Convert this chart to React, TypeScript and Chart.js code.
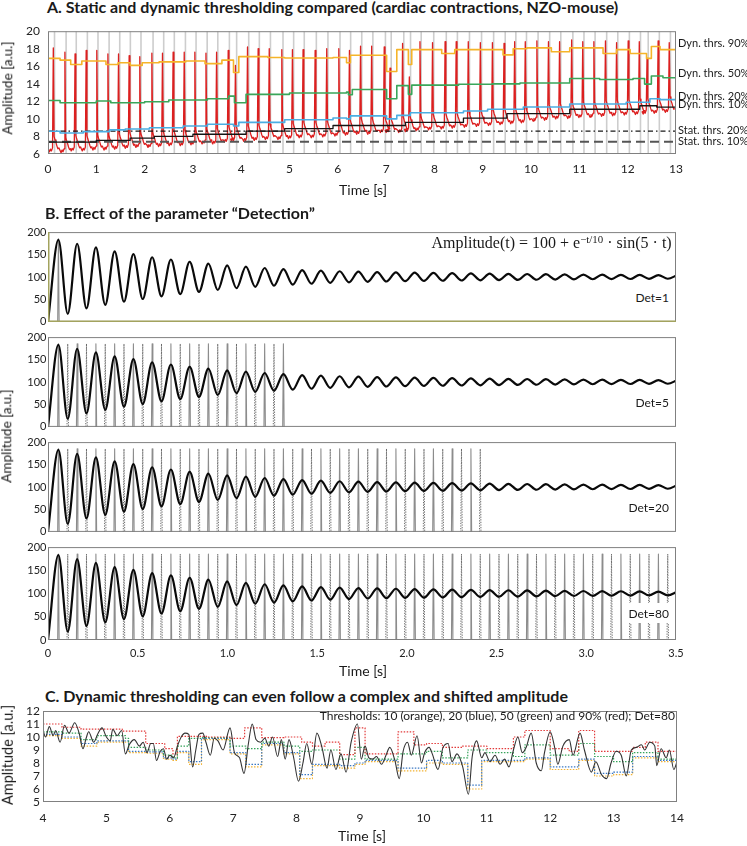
import React, { useEffect, useRef } from "react";
import { Chart, registerables } from "chart.js";

Chart.register(...registerables);
Chart.defaults.font.family = "Lato, 'Open Sans', sans-serif";
Chart.defaults.color = "#222";

// ================= Panel A data =================
const aBeatTimes = [0.11, 0.35, 0.56, 0.79, 1.01, 1.24, 1.46, 1.68, 1.9, 2.15, 2.37, 2.59, 2.82, 3.04, 3.27, 3.49, 3.73, 3.88, 4.13, 4.35, 4.58, 4.84, 5.06, 5.28, 5.53, 5.77, 6.02, 6.24, 6.47, 6.7, 6.96, 7.08, 7.34, 7.48, 7.7, 7.96, 8.22, 8.45, 8.7, 8.95, 9.2, 9.44, 9.66, 9.88, 10.12, 10.36, 10.59, 10.84, 11.07, 11.3, 11.54, 11.77, 12.01, 12.24, 12.4, 12.63, 12.86];
const aPeakValues = [18.1, 17.6, 17.4, 17.8, 17.8, 17.4, 17.4, 17.2, 17.1, 17.5, 17.5, 17.6, 17.6, 17.6, 17.5, 17.6, 17.8, 16.1, 18.2, 18.0, 18.0, 17.9, 17.9, 17.9, 17.8, 18.0, 18.0, 17.8, 18.3, 18.3, 18.2, 15.8, 18.6, 14.8, 18.8, 18.7, 18.8, 18.8, 18.8, 18.7, 18.7, 18.6, 18.8, 18.8, 18.9, 18.8, 18.8, 19.0, 18.8, 18.8, 18.9, 18.7, 18.9, 18.8, 16.9, 18.9, 18.7];
const aBaseValues = [6.4, 6.3, 6.5, 6.5, 6.6, 6.6, 6.7, 6.8, 6.9, 6.9, 7.0, 7.1, 7.1, 7.2, 7.3, 7.3, 7.5, 7.6, 7.6, 7.7, 7.8, 7.8, 7.9, 8.0, 8.0, 8.1, 8.2, 8.3, 8.4, 8.4, 8.6, 8.6, 8.6, 8.7, 8.8, 8.9, 9.0, 9.1, 9.2, 9.3, 9.4, 9.5, 9.6, 9.7, 9.9, 10.0, 10.15, 10.2, 10.3, 10.35, 10.45, 10.5, 10.6, 10.65, 10.7, 10.8, 10.9];
// waveform of one contraction, relative to the beat (time offsets [s], amplitude above baseline)
const aBeatShapeDt = [-0.1, -0.08, -0.06, -0.04, -0.016, 0, 0.016, 0.035, 0.055, 0.075, 0.095, 0.115];
const aBeatShapeRel = [0.1, -0.15, 0.15, -0.05, 0.3, NaN, 1.6, 1.2, 0.9, 0.5, 0.2, 0.3];
const aThr90 = [[0, 16.9], [0.25, 16.7], [0.47, 16.2], [0.7, 16.6], [1.0, 16.6], [1.2, 16.2], [1.45, 16.4], [1.7, 16.1], [1.95, 16.4], [2.3, 16.5], [2.85, 16.6], [3.25, 16.3], [3.6, 16.7], [3.84, 15.3], [3.95, 17.1], [4.55, 17.0], [4.9, 16.95], [5.9, 17.0], [6.18, 16.4], [6.26, 17.25], [7.01, 15.4], [7.22, 17.9], [7.46, 16.2], [7.53, 17.9], [8.15, 17.45], [8.42, 17.9], [9.42, 17.3], [9.63, 18.0], [9.91, 18.1], [10.42, 17.65], [10.8, 18.1], [11.49, 17.45], [11.77, 17.9], [12.05, 17.45], [12.39, 16.9], [12.49, 18.25], [12.67, 17.9], [13, 17.9]];
const aThr50 = [[0, 12.1], [0.25, 11.85], [1.0, 12.05], [1.3, 11.85], [2.0, 11.95], [2.5, 12.15], [3.3, 12.3], [3.74, 12.6], [3.86, 11.85], [4.1, 12.8], [5.0, 12.95], [6.18, 13.05], [6.22, 12.75], [6.3, 13.35], [7.01, 12.3], [7.22, 13.8], [7.46, 12.8], [7.53, 13.85], [8.5, 13.95], [9.2, 14.0], [9.77, 14.1], [10.8, 14.6], [11.42, 14.5], [12.11, 14.6], [12.35, 13.97], [12.49, 14.9], [12.73, 14.7], [13, 14.7]];
const aThr20 = [[0, 8.6], [0.25, 8.4], [0.73, 8.55], [1.27, 8.75], [1.6, 8.85], [2.1, 9.0], [2.8, 9.2], [3.3, 9.4], [3.84, 9.2], [3.95, 9.6], [4.9, 9.9], [5.9, 10.1], [6.18, 10.0], [6.26, 10.35], [7.01, 10.0], [7.22, 10.4], [7.5, 10.7], [8.6, 10.9], [9.1, 11.1], [9.84, 11.35], [10.8, 11.7], [11.97, 11.9], [12.46, 12.3], [12.67, 12.2], [13, 12.2]];
const aThr10 = [[0, 7.35], [1.0, 7.55], [1.7, 7.8], [2.2, 8.0], [3.0, 8.25], [4.1, 8.6], [4.9, 8.9], [5.9, 9.25], [7.4, 9.6], [8.6, 10.1], [9.5, 10.6], [10.8, 11.1], [12.25, 11.5], [12.6, 11.35], [13, 11.35]];
const aStat20 = 8.6;
const aStat10 = 7.4;
const aRightLabels = ["Dyn. thrs. 90%", "Dyn. thrs. 50%", "Dyn. thrs. 20%", "Dyn. thrs. 10%", "Stat. thrs. 20%", "Stat. thrs. 10%"];

// ================= Panel B data =================
const bPeakTimes = [0.058, 0.1625, 0.267, 0.3715, 0.476, 0.5805, 0.685, 0.7895, 0.894, 0.9985, 1.103, 1.2075, 1.312, 1.4165, 1.521, 1.6255, 1.73, 1.8345, 1.939, 2.0435, 2.148, 2.2525, 2.357, 2.4615, 2.566, 2.6705, 2.775, 2.8795, 2.984, 3.0885, 3.193, 3.2975, 3.402, 3.5065];
const bPeakValues = [183, 174, 166, 157, 151, 144, 139, 134, 130, 126, 123, 120, 117.5, 115.5, 114, 112.8, 111.8, 111, 110.3, 109.7, 109.1, 108.6, 108.0, 107.5, 107.1, 106.7, 106.3, 105.9, 105.5, 105.2, 104.9, 104.6, 104.3, 104.1];
const bTroughTimes = [0, 0.11, 0.2145, 0.319, 0.4235, 0.528, 0.6325, 0.737, 0.8415, 0.946, 1.0505, 1.155, 1.2595, 1.364, 1.4685, 1.573, 1.6775, 1.782, 1.8865, 1.991, 2.0955, 2.2, 2.3045, 2.409, 2.5135, 2.618, 2.7225, 2.827, 2.9315, 3.036, 3.1405, 3.245, 3.3495, 3.454];
const bTroughValues = [0, 18, 30, 38, 45, 51, 57, 62, 67, 71, 75, 78, 80.5, 83, 85, 86.8, 88.2, 89.3, 90, 90.6, 91.2, 91.7, 92.2, 92.7, 93.1, 93.5, 93.9, 94.3, 94.7, 95.0, 95.3, 95.6, 95.9, 96.1];
const bDetLabels = ["Det=1", "Det=5", "Det=20", "Det=80"];
const bMaxMarks = [1, 13, 23, 33]; // detected maxima shown (solid)
const bMinMarks = [0, 12, 23, 33]; // detected minima shown (dotted), counted from the 2nd trough
const bMarkTop = 185;

// ================= Panel C data =================
const cTimes = [4.0, 4.04, 4.1, 4.16, 4.2, 4.27, 4.34, 4.41, 4.5, 4.57, 4.63, 4.68, 4.72, 4.8, 4.86, 4.93, 5.0, 5.06, 5.1, 5.17, 5.24, 5.3, 5.36, 5.44, 5.52, 5.58, 5.64, 5.7, 5.74, 5.79, 5.85, 5.9, 5.95, 6.0, 6.06, 6.12, 6.18, 6.24, 6.3, 6.36, 6.41, 6.46, 6.52, 6.57, 6.64, 6.7, 6.76, 6.84, 6.95, 7.02, 7.1, 7.17, 7.24, 7.3, 7.36, 7.43, 7.5, 7.56, 7.62, 7.7, 7.76, 7.82, 7.88, 7.95, 8.03, 8.1, 8.16, 8.24, 8.32, 8.4, 8.48, 8.54, 8.62, 8.7, 8.78, 8.86, 8.96, 9.02, 9.08, 9.14, 9.2, 9.26, 9.34, 9.41, 9.47, 9.55, 9.62, 9.68, 9.75, 9.81, 9.9, 9.97, 10.02, 10.09, 10.14, 10.23, 10.31, 10.39, 10.45, 10.53, 10.62, 10.71, 10.77, 10.84, 10.92, 10.97, 11.05, 11.13, 11.21, 11.28, 11.35, 11.42, 11.49, 11.56, 11.62, 11.7, 11.78, 11.86, 11.91, 12.0, 12.07, 12.12, 12.2, 12.3, 12.36, 12.47, 12.54, 12.65, 12.72, 12.81, 12.89, 12.96, 13.04, 13.12, 13.2, 13.28, 13.36, 13.44, 13.49, 13.57, 13.65, 13.68, 13.75, 13.83, 13.88, 13.95, 14.0];
const cValues = [10.5, 10.0, 10.8, 10.1, 10.5, 9.6, 10.9, 10.3, 11.1, 10.3, 9.1, 9.9, 10.4, 9.6, 10.2, 10.7, 10.0, 9.7, 10.6, 10.1, 10.5, 8.7, 9.4, 9.8, 9.3, 9.6, 8.8, 9.5, 9.5, 8.2, 8.9, 9.1, 8.3, 8.6, 8.4, 9.3, 10.0, 10.3, 10.2, 7.7, 9.0, 10.2, 10.3, 9.6, 8.6, 9.9, 9.7, 9.0, 10.7, 8.8, 8.4, 7.2, 9.5, 11.0, 9.8, 9.6, 9.9, 9.3, 10.0, 8.5, 9.8, 8.3, 9.8, 8.5, 6.6, 8.0, 9.5, 7.9, 10.3, 9.2, 7.6, 9.0, 7.5, 8.7, 7.3, 9.6, 11.0, 8.3, 9.3, 8.4, 8.3, 8.5, 7.9, 8.6, 9.2, 8.2, 6.8, 8.9, 9.6, 8.6, 10.1, 8.0, 8.8, 9.2, 8.7, 7.5, 9.2, 9.5, 8.1, 8.7, 7.7, 5.6, 8.5, 9.7, 8.4, 8.8, 8.1, 8.6, 7.9, 8.3, 7.7, 9.0, 10.0, 8.8, 9.2, 10.3, 8.0, 7.4, 8.8, 10.4, 9.2, 7.9, 9.3, 9.8, 8.6, 10.3, 9.0, 7.3, 8.1, 7.1, 6.8, 8.0, 8.9, 8.6, 7.0, 9.0, 9.2, 9.4, 9.0, 9.6, 9.3, 7.8, 9.1, 8.4, 9.0, 7.5, 8.1];
const cRed = [[4, 11.0], [4.3, 10.75], [4.6, 10.6], [5.25, 10.45], [5.62, 9.5], [5.92, 9.1], [6.05, 8.7], [6.12, 10.05], [6.6, 10.0], [6.95, 9.9], [7.18, 10.7], [7.45, 9.95], [7.8, 10.0], [8.08, 9.6], [8.25, 9.3], [8.45, 9.6], [8.68, 8.65], [8.92, 10.7], [9.08, 8.7], [9.6, 10.4], [9.85, 9.4], [10.05, 9.5], [10.3, 9.2], [10.6, 9.3], [11.0, 9.1], [11.42, 10.0], [11.6, 10.5], [12.0, 9.1], [12.3, 8.9], [12.45, 10.5], [12.7, 8.9], [13.3, 9.2], [13.5, 9.6], [13.7, 8.9], [14, 8.7]];
const cGreen = [[4, 10.4], [4.3, 10.3], [4.6, 9.8], [4.85, 10.1], [5.3, 9.9], [5.35, 9.2], [5.62, 9.0], [5.9, 8.6], [6.05, 8.4], [6.12, 9.3], [6.3, 9.9], [6.5, 9.95], [6.95, 9.3], [7.2, 9.1], [7.45, 9.6], [7.8, 9.3], [8.05, 8.9], [8.25, 9.0], [8.68, 8.3], [8.92, 9.2], [9.08, 8.3], [9.6, 8.7], [10.05, 8.9], [10.3, 8.4], [10.7, 9.0], [11.0, 8.8], [11.42, 8.5], [11.6, 9.4], [12.0, 8.6], [12.45, 9.5], [12.7, 8.5], [13.0, 8.1], [13.3, 8.8], [13.7, 8.3], [14, 8.0]];
const cBlue = [[4, 10.2], [4.3, 10.0], [4.6, 9.5], [4.85, 9.7], [5.3, 9.7], [5.35, 8.9], [5.62, 8.85], [5.9, 8.4], [6.05, 8.3], [6.12, 8.9], [6.3, 8.1], [6.5, 9.9], [6.95, 8.8], [7.2, 7.9], [7.45, 9.5], [7.8, 8.8], [8.05, 7.1], [8.25, 7.9], [8.68, 7.8], [8.92, 8.0], [9.08, 8.2], [9.6, 7.6], [10.05, 8.2], [10.3, 8.0], [10.7, 6.3], [10.92, 8.2], [11.42, 8.2], [11.6, 8.4], [12.0, 7.7], [12.45, 8.3], [12.7, 7.2], [13.0, 7.3], [13.3, 8.5], [13.7, 8.2], [14, 8.0]];
const cOrange = [[4, 10.1], [4.3, 9.9], [4.6, 9.3], [4.85, 9.6], [5.3, 9.6], [5.35, 8.8], [5.62, 8.75], [5.9, 8.3], [6.05, 8.2], [6.12, 8.8], [6.3, 7.9], [6.5, 9.8], [6.95, 8.7], [7.2, 7.7], [7.45, 9.4], [7.8, 8.7], [8.05, 6.8], [8.25, 7.8], [8.68, 7.6], [8.92, 7.9], [9.08, 8.1], [9.6, 7.4], [10.05, 8.0], [10.3, 7.9], [10.7, 6.0], [10.92, 8.1], [11.42, 8.1], [11.6, 8.3], [12.0, 7.5], [12.45, 8.2], [12.7, 7.0], [13.0, 7.1], [13.3, 8.4], [13.7, 8.1], [14, 7.9]];

// ================= helpers =================
const FONT = "Lato, 'Open Sans', sans-serif";
type Rect = { l: number; t: number; r: number; b: number };
type Box = { left: number; top: number; width: number; height: number };
type Axis = { min: number; max: number; step: number; labels: boolean; pad: number; size: number; fmt?: (v: number) => string };

const pts = (pairs: number[][]) => pairs.map(([x, y]) => ({ x, y }));
const hline = (y: number, x0: number, x1: number) => [{ x: x0, y }, { x: x1, y }];

function ds(data: any[], color: string, width: number, extra: any = {}) {
  return { data, borderColor: color, borderWidth: width, pointRadius: 0, fill: false, tension: 0, ...extra };
}

const framePlugin = {
  id: "frame",
  afterDatasetsDraw(chart: any, _a: any, opts: any) {
    const { ctx, chartArea } = chart;
    const { left, top, right, bottom } = chartArea;
    ctx.save();
    ctx.lineWidth = 1;
    ctx.strokeStyle = opts.color || "#808080";
    ctx.strokeRect(left + 0.5, top + 0.5, right - left - 1, bottom - top - 1);
    if (opts.accent) {
      ctx.strokeStyle = opts.accent;
      ctx.lineWidth = 1.5;
      ctx.beginPath();
      ctx.moveTo(left + 0.75, top);
      ctx.lineTo(left + 0.75, bottom - 0.75);
      ctx.lineTo(right, bottom - 0.75);
      ctx.stroke();
    }
    ctx.restore();
  },
};

function Panel(p: { box: Box; plot: Rect; x: Axis; y: Axis; datasets: any[]; frame?: any }) {
  const ref = useRef<HTMLCanvasElement>(null);
  useEffect(() => {
    const { box, plot } = p;
    const pl = plot.l - box.left;
    const pt = plot.t - box.top;
    const pr = box.left + box.width - plot.r;
    const pb = box.top + box.height - plot.b;
    const chart = new Chart(ref.current!, {
      type: "line",
      data: { datasets: p.datasets },
      options: {
        responsive: false,
        animation: false,
        devicePixelRatio: 1,
        events: [],
        layout: { padding: { left: 0, top: pt, right: pr, bottom: 0 } },
        plugins: { legend: { display: false }, tooltip: { enabled: false }, frame: p.frame || {} } as any,
        scales: {
          x: {
            type: "linear",
            min: p.x.min,
            max: p.x.max,
            grid: { display: false, drawTicks: false },
            border: { display: false },
            ticks: {
              display: p.x.labels,
              stepSize: p.x.step,
              autoSkip: false,
              maxRotation: 0,
              padding: p.x.pad,
              font: { size: p.x.size, family: FONT },
              color: "#222",
              callback: (v: any) => (p.x.fmt ? p.x.fmt(Number(v)) : String(v)),
            },
            afterFit: (s: any) => {
              s.height = pb;
            },
          },
          y: {
            type: "linear",
            min: p.y.min,
            max: p.y.max,
            grid: { display: false, drawTicks: false },
            border: { display: false },
            ticks: {
              display: p.y.labels,
              stepSize: p.y.step,
              autoSkip: false,
              padding: p.y.pad,
              font: { size: p.y.size, family: FONT },
              color: "#222",
            },
            afterFit: (s: any) => {
              s.width = pl;
            },
          },
        },
        elements: { point: { radius: 0 }, line: { borderJoinStyle: "round", borderCapStyle: "butt" } },
      } as any,
      plugins: [framePlugin as any],
    });
    return () => chart.destroy();
  }, []);
  return (
    <canvas
      ref={ref}
      width={p.box.width}
      height={p.box.height}
      style={{ position: "absolute", left: p.box.left, top: p.box.top, width: p.box.width, height: p.box.height }}
    />
  );
}

function T(props: { x: number; base: number; size: number; bold?: boolean; anchor?: "start" | "middle" | "end"; family?: string; bg?: string; children: any }) {
  const serif = props.family && props.family.includes("Serif");
  const asc = serif ? 0.8375 : 0.887;
  const tx = props.anchor === "middle" ? "translateX(-50%)" : props.anchor === "end" ? "translateX(-100%)" : "none";
  return (
    <div
      style={{
        position: "absolute",
        left: props.x,
        top: props.base - asc * props.size,
        fontSize: props.size,
        lineHeight: 1,
        fontFamily: props.family || FONT,
        fontWeight: props.bold ? 700 : 400,
        whiteSpace: "nowrap",
        color: "#1a1a1a",
        transform: tx,
        background: props.bg,
      }}
    >
      {props.children}
    </div>
  );
}

function VT(props: { cx: number; cy: number; size: number; children: any }) {
  return (
    <div
      style={{
        position: "absolute",
        left: props.cx,
        top: props.cy,
        fontSize: props.size,
        lineHeight: 1,
        fontFamily: FONT,
        whiteSpace: "nowrap",
        color: "#1a1a1a",
        transform: "translate(-50%, -50%) rotate(-90deg)",
      }}
    >
      {props.children}
    </div>
  );
}

// ---------- build datasets ----------
function buildA() {
  const red: any[] = [];
  aBeatTimes.forEach((t, i) => {
    aBeatShapeDt.forEach((dt, k) => {
      const rel = aBeatShapeRel[k];
      red.push({ x: t + dt, y: isNaN(rel) ? aPeakValues[i] : aBaseValues[i] + rel });
    });
  });
  const grey: any[] = [];
  aBeatTimes.forEach((t) => {
    grey.push({ x: t + 0.025, y: 6 }, { x: t + 0.025, y: 20 }, { x: t + 0.025, y: null });
  });
  return [
    ds(pts(aThr90), "#f5b429", 1.6, { stepped: true }),
    ds(pts(aThr50), "#3aa65a", 1.6, { stepped: true }),
    ds(pts(aThr20), "#4aaee3", 1.6, { stepped: true }),
    ds(pts(aThr10), "#141414", 1.3, { stepped: true }),
    ds(hline(aStat20, 0, 13), "#1a1a1a", 1.2, { borderDash: [5, 3, 1.5, 3] }),
    ds(hline(aStat10, 0, 13), "#555555", 2, { borderDash: [9, 5] }),
    ds(red, "#dc1f1f", 1.3),
    ds(grey, "#cdcdcd", 1.6),
  ];
}

function buildB(idx: number) {
  const curve: any[] = [];
  const n = Math.max(bPeakTimes.length, bTroughTimes.length);
  for (let k = 0; k < n; k++) {
    if (k < bTroughTimes.length) curve.push({ x: bTroughTimes[k], y: bTroughValues[k] });
    if (k < bPeakTimes.length) curve.push({ x: bPeakTimes[k], y: bPeakValues[k] });
  }
  const solid: any[] = [];
  for (let k = 0; k < bMaxMarks[idx]; k++) {
    const t = bPeakTimes[k];
    solid.push({ x: t - 0.004, y: 0 }, { x: t, y: bMarkTop }, { x: t + 0.004, y: 0 }, { x: t, y: null });
  }
  const dotted: any[] = [];
  for (let k = 1; k <= bMinMarks[idx]; k++) {
    const t = bTroughTimes[k];
    dotted.push({ x: t - 0.004, y: 0 }, { x: t, y: bMarkTop }, { x: t + 0.004, y: 0 }, { x: t, y: null });
  }
  return [
    ds(curve, "#0a0a0a", 2.2, { cubicInterpolationMode: "monotone" }),
    ds(solid, "#8c8c8c", 1.1),
    ds(dotted, "#6a6a6a", 1.0, { borderDash: [1.3, 1.3] }),
  ];
}

function buildC() {
  const black = cTimes.map((t, i) => ({ x: t, y: cValues[i] }));
  return [
    ds(black, "#333333", 1.1, { cubicInterpolationMode: "monotone" }),
    ds(pts(cRed), "#e23a3a", 1.2, { stepped: true, borderDash: [1.5, 1.5] }),
    ds(pts(cGreen), "#35a35a", 1.2, { stepped: true, borderDash: [1.5, 1.5] }),
    ds(pts(cBlue), "#3a78c4", 1.2, { stepped: true, borderDash: [1.5, 1.5] }),
    ds(pts(cOrange), "#f2b233", 1.2, { stepped: true, borderDash: [1.5, 1.5] }),
  ];
}

const bPlots: Rect[] = [
  { l: 48, t: 232, r: 676, b: 324 },
  { l: 48, t: 337, r: 676, b: 429 },
  { l: 48, t: 442, r: 676, b: 534 },
  { l: 48, t: 547, r: 676, b: 640 },
];
const aLabelBases = [46.7, 76.7, 99.3, 107.6, 134, 145];

export default function App() {
  const fmtB = (v: number) => (v === 0 ? "0" : v.toFixed(1));
  return (
    <div style={{ position: "absolute", left: 0, top: 0, width: 747, height: 846, background: "#fff", overflow: "hidden" }}>
      {/* Panel A */}
      <T x={47} base={13} size={16} bold>
        A. Static and dynamic thresholding compared (cardiac contractions, NZO-mouse)
      </T>
      <Panel
        box={{ left: 0, top: 16, width: 747, height: 176 }}
        plot={{ l: 48, t: 23, r: 676, b: 154 }}
        x={{ min: 0, max: 13, step: 1, labels: true, pad: 8, size: 12 }}
        y={{ min: 6, max: 20, step: 2, labels: true, pad: 8, size: 12 }}
        datasets={buildA()}
      />
      {aRightLabels.map((s, i) => (
        <T key={s} x={678} base={aLabelBases[i]} size={11}>
          {s}
        </T>
      ))}
      <T x={363} base={195.5} size={14} anchor="middle">
        Time [s]
      </T>
      <VT cx={8} cy={88} size={13.5}>
        Amplitude [a.u.]
      </VT>

      {/* Panel B */}
      <T x={45} base={219.5} size={16} bold>
        B. Effect of the parameter “Detection”
      </T>
      {bPlots.map((pl, i) => (
        <Panel
          key={i}
          box={{ left: 0, top: pl.t - 8, width: 747, height: pl.b - pl.t + 8 + (i === 3 ? 30 : 6) }}
          plot={pl}
          x={{ min: 0, max: 3.5, step: 0.5, labels: i === 3, pad: 6.5, size: 11, fmt: fmtB }}
          y={{ min: 0, max: 200, step: 50, labels: true, pad: 1.5, size: 11 }}
          datasets={buildB(i)}
          frame={i === 0 ? { accent: "#a3a35e" } : {}}
        />
      ))}
      {bPlots.map((pl, i) => (
        <div key={"w" + i} style={{ position: "absolute", left: 627, top: pl.b - 37, width: 47, height: 20, background: "#fff" }} />
      ))}
      {bPlots.map((pl, i) => (
        <T key={"d" + i} x={669} base={pl.b - 21.5} size={12} anchor="end">
          {bDetLabels[i]}
        </T>
      ))}
      <T x={671.7} base={248.5} size={16} anchor="end" family="'Liberation Serif', 'DejaVu Serif', serif">
        Amplitude(t) = 100 + e
        <span style={{ fontSize: "0.68em", position: "relative", top: "-0.5em" }}>−t/10</span> · sin(5 · t)
      </T>
      <T x={363} base={676} size={14} anchor="middle">
        Time [s]
      </T>
      <VT cx={7} cy={436} size={13.5}>
        Amplitude [a.u.]
      </VT>

      {/* Panel C */}
      <T x={45} base={702} size={16} bold>
        C. Dynamic thresholding can even follow a complex and shifted amplitude
      </T>
      <Panel
        box={{ left: 0, top: 700, width: 747, height: 130 }}
        plot={{ l: 43, t: 711, r: 677, b: 802 }}
        x={{ min: 4, max: 14, step: 1, labels: true, pad: 9, size: 12 }}
        y={{ min: 5, max: 12, step: 1, labels: true, pad: 3, size: 12 }}
        datasets={buildC()}
      />
      <T x={675} base={720.5} size={12} anchor="end">
        Thresholds: 10 (orange), 20 (blue), 50 (green) and 90% (red); Det=80
      </T>
      <T x={362} base={841} size={14} anchor="middle">
        Time [s]
      </T>
      <VT cx={8.3} cy={755} size={14.5}>
        Amplitude [a.u.]
      </VT>
    </div>
  );
}
